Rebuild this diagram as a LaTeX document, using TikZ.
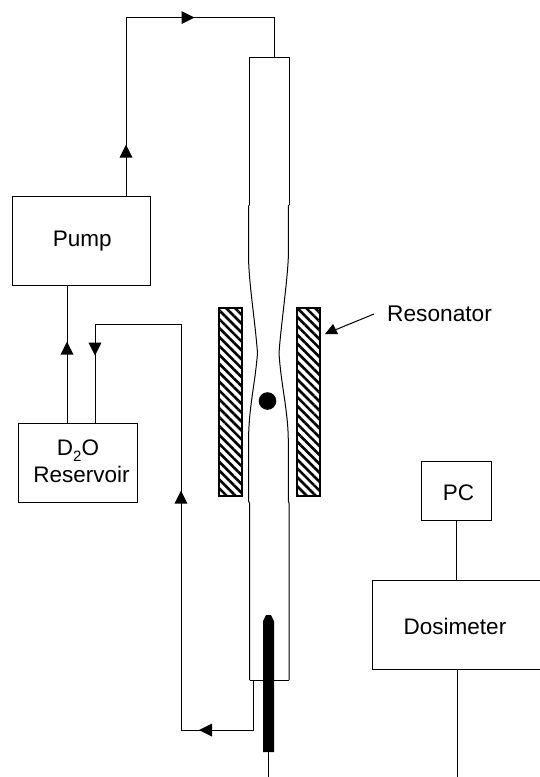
\documentclass[tikz,border=0pt]{standalone}
\usepackage{fontspec}
\setmainfont{Liberation Sans}
\usetikzlibrary{patterns,patterns.meta}
\tikzset{
 box/.style={draw=black,line width=1pt,fill=white,inner sep=0pt,align=center,font=\fontsize{22.5}{27}\selectfont,anchor=north west},
 wire/.style={draw=black,line width=1pt},
 tube/.style={draw=black,line width=1pt},
 head/.style={fill=black,draw=none},
 coil/.style={draw=black,line width=1.2pt,pattern={Lines[angle=-45,distance=6.3pt,line width=2.6pt]},pattern color=black},
}
\newcommand{\upH}[2]{\fill[head] (#1,#2-6.5) -- (#1+6.5,#2+6.5) -- (#1-6.5,#2+6.5) -- cycle;}
\newcommand{\dnH}[2]{\fill[head] (#1,#2+6.5) -- (#1+6.5,#2-6.5) -- (#1-6.5,#2-6.5) -- cycle;}
\newcommand{\rtH}[2]{\fill[head] (#1+6.5,#2) -- (#1-6.5,#2-6.5) -- (#1-6.5,#2+6.5) -- cycle;}
\newcommand{\ltH}[2]{\fill[head] (#1-6.5,#2) -- (#1+6.5,#2-6.5) -- (#1+6.5,#2+6.5) -- cycle;}
\begin{document}
\begin{tikzpicture}[x=1pt,y=-1pt]
\useasboundingbox (0,0) rectangle (539,777);
% boxes
\node[box,minimum width=138.5pt,minimum height=89pt] (pump) at (11.5,196) {\hspace*{2pt}Pump};
\node[box,minimum width=119pt,minimum height=79pt,text depth=4pt] (res) at (18,423) {D\raisebox{-6pt}{\fontsize{15}{15}\selectfont 2}O\\\hspace*{7pt}Reservoir};
\node[box,minimum width=70pt,minimum height=59pt,text height=19pt,text depth=0pt] (pc) at (421,461) {\hspace*{4pt}PC};
\node[box,minimum width=168pt,minimum height=89pt,text height=19pt,text depth=0pt] (dos) at (372,580) {\hspace*{-3pt}Dosimeter};
% tube
\coordinate (tubeTop) at (274,57);
\coordinate (tubeOut) at (253,680);
\draw[tube] (249.5,205) -- (249.5,57) -- (289,57) -- (289,205);
\draw[tube] (249.5,205) -- (248.5,206) -- (248.5,257) .. controls (249,285) and (255,320) .. (257.5,353) .. controls (255,385) and (249,405) .. (248.5,440) -- (248.5,501) -- (249.5,503) -- (249.5,680);
\draw[tube] (289,205) -- (288.3,206) -- (288.3,258) .. controls (287,285) and (281,325) .. (279,353) .. controls (281,385) and (288,410) .. (288.3,440) -- (288.3,501) -- (289,503) -- (289,680);
\draw[tube] (249.5,680) -- (289,680);
% resonator
\path[coil] (219,308) rectangle (242,496);
\path[coil] (297,308) rectangle (320,496);
% sample
\fill (267.5,401) circle (8.8);
% probe
\fill (263,752) -- (263,621) -- (266,615) -- (271,615) -- (274,621) -- (274,752) -- cycle;
\coordinate (probeEnd) at (268.7,752);
\coordinate (probeOut) at (268.7,777);
\draw[wire] (probeEnd) -- (probeOut);
% connectors
\coordinate (dosOut) at (457,777);
\draw[wire] (pc.south -| 456,0) -- (dos.north -| 456,0);
\draw[wire] (dos.south -| dosOut) -- (dosOut);
\draw[wire] (pump.north -| 126,0) -- (126,17.5) -- (274,17.5) -- (tubeTop);
\draw[wire] (pump.south -| 67,0) -- (res.north -| 67,0);
\draw[wire] (res.north -| 95,0) -- (95,324) -- (181,324) -- (181,730) -- (253,730) -- (tubeOut);
\upH{126}{151}
\rtH{188}{17.5}
\upH{67}{348}
\dnH{95}{349}
\upH{181}{497}
\ltH{205.5}{730}
% resonator label
\node[anchor=base west,inner sep=0pt,font=\fontsize{22.7}{27}\selectfont] (lab) at (387,321) {Resonator};
\coordinate (tip) at (325,334);
\coordinate (tail) at (374,314);
\draw[wire] (tail) -- (335,330);
\fill (tip) -- (333,324) -- (338,334) -- cycle;
\end{tikzpicture}
\end{document}
